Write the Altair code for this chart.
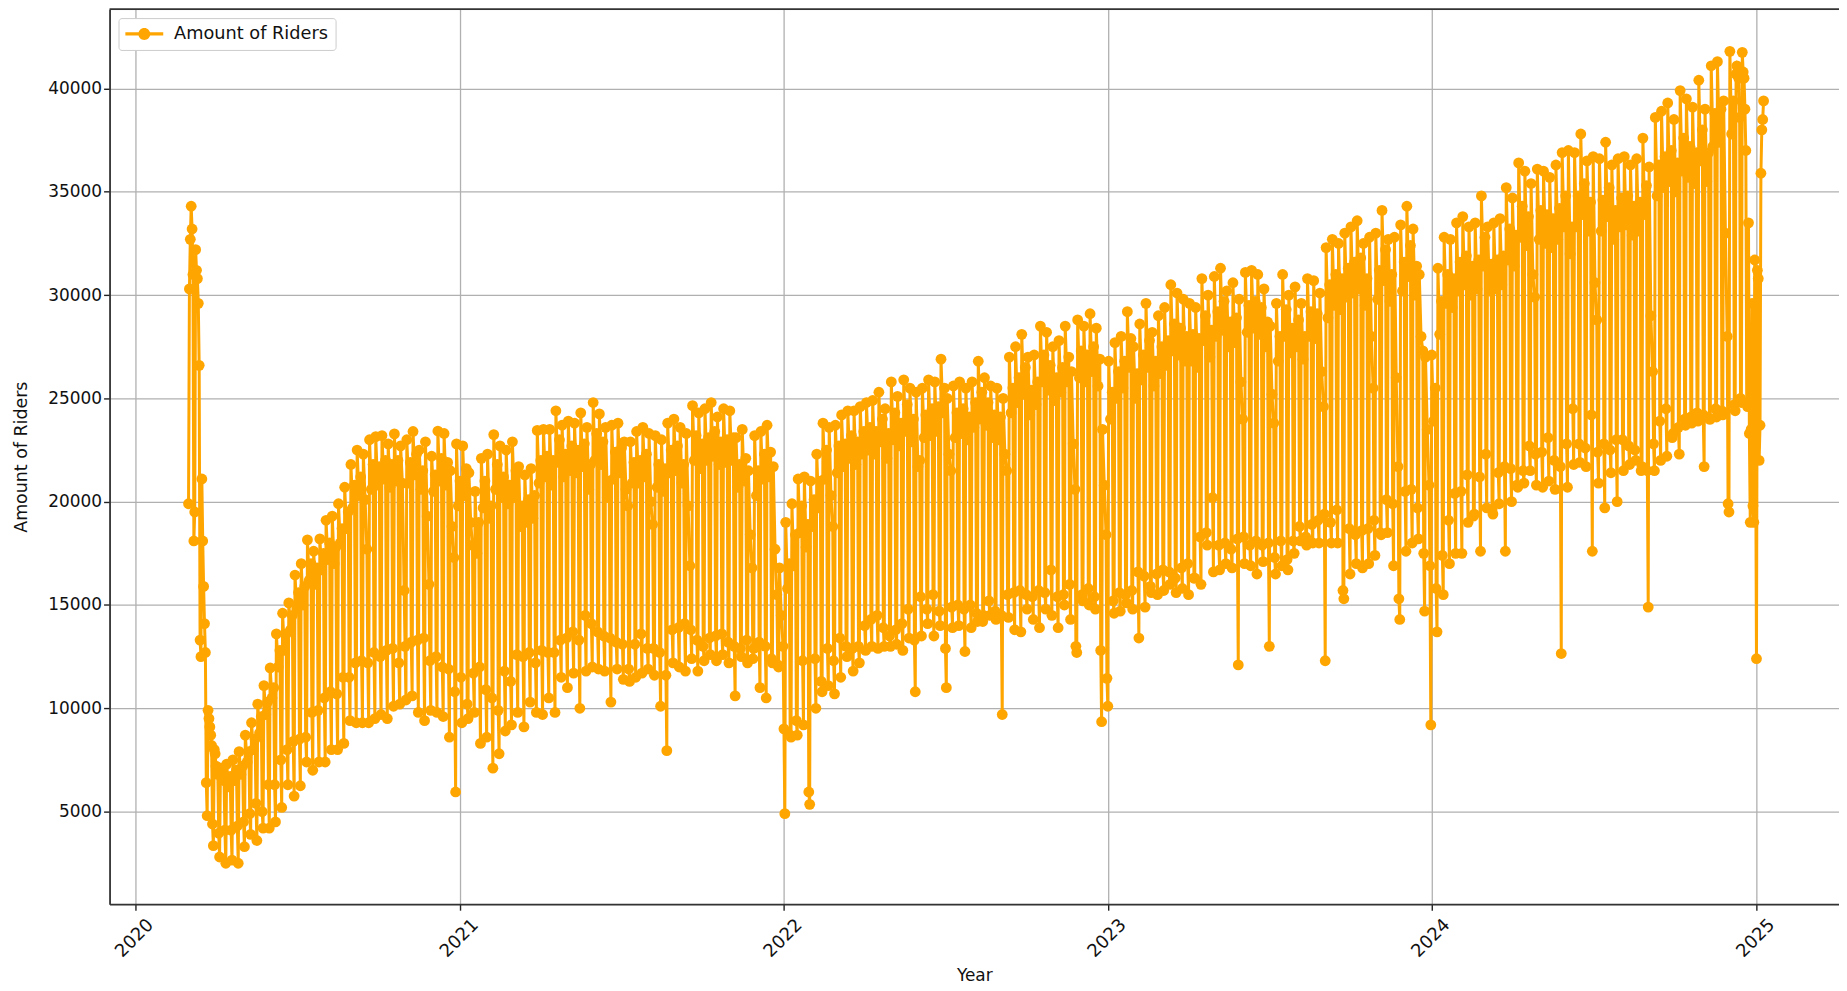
import altair as alt
import pandas as pd

# Daily readings, 1 Mar 2020 to 12 Apr 2020
spring_2020 = [19900, 30300, 32700, 34300, 33200, 31000, 18100,
               19500, 32200, 31200, 30800, 29600, 26600, 13300,
               12500, 21100, 18100, 15900, 14100, 12700, 6400,
               4800, 9900, 9500, 9100, 8700, 8200, 4400,
               3350, 8000, 7800, 7200, 7000, 6800, 3950,
               2800, 7100, 7000, 6900, 6700, 6500, 4100, 2500]

# Weekly readings, one value per week from the week of 13 Apr 2020 to the week of 2 Dec 2024
weekday_peak = [
    7300, 7500, 7900, 8700, 9300, 10200, 11100, 11950, 13600, 14600, 15100, 16450, 17000,
    18150, 17600, 18200, 19100, 19300, 19900, 20700, 21800, 22500, 22300, 23000, 23150, 23200,
    22800, 23280, 22700, 23000, 23400, 22500, 22900, 22200, 23420, 23300, 21500, 22800, 22700,
    21400, 20500, 22100, 22300, 23250, 22700, 22500, 22900, 21700, 21300, 21600, 23450, 23500,
    23500, 24400, 23700, 23900, 23800, 24300, 23600, 24800, 24250, 23600, 23700, 23800, 22900,
    22900, 23400, 23600, 23300, 23200, 23000, 23800, 24000, 23600, 23300, 24650, 24300, 24500,
    24800, 24100, 24500, 24400, 23100, 23500, 21500, 23200, 23400, 23700, 21700, 16800, 19000,
    19900, 21100, 21200, 21000, 22300, 23800, 23600, 23700, 24200, 24400, 24400, 24600, 24800,
    24900, 25300, 24500, 25800, 25100, 25900, 25500, 25300, 25500, 25900, 25800, 26900, 25000,
    25600, 25800, 25500, 25800, 26800, 26000, 25600, 25500, 25000, 27000, 27500, 28100, 27000,
    27100, 28500, 28200, 27500, 27800, 28500, 26300, 28800, 28500, 29100, 28400, 23500, 26800,
    27700, 28000, 29200, 27500, 28600, 29600, 28200, 29000, 29400, 30500, 30100, 29800, 29600,
    29400, 30800, 30000, 30900, 31300, 30200, 30600, 29800, 31100, 31200, 31000, 30300, 28500,
    29600, 31000, 30000, 30400, 29600, 30800, 30700, 30100, 32300, 32700, 32500, 33000, 33300,
    33600, 32500, 32800, 33000, 34100, 32700, 32800, 33400, 34300, 33200, 31000, 27000, 27100,
    31300, 32800, 32700, 33500, 33800, 33300, 33500, 34800, 33300, 33500, 33700, 35200, 34700,
    36400, 36000, 35400, 36100, 36000, 35700, 36300, 36900, 37000, 36900, 37800, 36500, 36700,
    36600, 37400, 36300, 36600, 36700, 36300, 36600, 37600, 36200, 38600, 38900, 39300, 38500,
    39900, 39500, 39100, 40400, 39000, 41100, 41300, 39400, 41800]

weekday_low = [
    6200, 6500, 6800, 7400, 8000, 8800, 9700, 10500, 12000, 12800, 13800, 14800, 15000,
    16200, 16000, 16700, 17200, 17000, 18000, 18700, 19700, 20300, 20100, 20600, 20800, 21100,
    20700, 21000, 20900, 20900, 21300, 20600, 19300, 20500, 21000, 20800, 18800, 19800, 20300,
    19000, 17500, 19700, 19200, 20600, 20200, 19900, 20200, 18800, 19000, 19200, 20900, 21200,
    20800, 21900, 21200, 21500, 21400, 21700, 20600, 22000, 21800, 20200, 21100, 21400, 20600,
    20900, 20900, 21200, 20000, 20700, 20500, 21400, 21500, 20900, 19800, 22000, 21600, 22000,
    22200, 21800, 21900, 22000, 20700, 21000, 18400, 20300, 21100, 21200, 17700, 14500, 15800,
    16900, 18500, 17800, 18800, 19700, 21100, 20300, 21400, 21700, 22100, 21800, 22300, 22500,
    22300, 22900, 22100, 23000, 22700, 23400, 22900, 21700, 23100, 23200, 23400, 24300, 22300,
    23100, 23300, 23000, 23600, 24000, 23700, 23100, 23000, 22300, 24300, 24800, 25200, 24200,
    24700, 25800, 25400, 24900, 25300, 25800, 22800, 26000, 25800, 26300, 25600, 20800, 24000,
    25000, 25500, 26500, 25000, 25900, 26500, 25600, 26200, 26600, 27300, 27100, 26800, 26800,
    26500, 27800, 27000, 28000, 28300, 27500, 27700, 25800, 28200, 28400, 28100, 27500, 25200,
    26800, 28000, 27200, 27500, 26900, 28000, 27900, 26300, 28900, 29500, 29300, 29900, 30100,
    30300, 29500, 28000, 29800, 30700, 29700, 26000, 30200, 30900, 30000, 28000, 23500, 23900,
    28100, 29600, 29400, 30200, 30500, 30000, 30300, 31400, 30200, 30300, 30500, 31700, 31400,
    32800, 32400, 31000, 32700, 32500, 32300, 32700, 33300, 32000, 33300, 33900, 33100, 30600,
    33100, 33800, 32700, 33300, 33400, 32900, 33100, 33900, 29000, 34800, 35200, 35500, 35000,
    36000, 35700, 35400, 36500, 35500, 37200, 37400, 33000, 37800]

weekday_mid = [
    6700, 7000, 7200, 7900, 8500, 9600, 10300, 11000, 12800, 13600, 14500, 15600, 15900,
    17000, 16800, 17500, 18000, 17800, 18700, 19500, 20800, 21200, 17700, 21800, 21700, 22000,
    21800, 22000, 15700, 21900, 22300, 21500, 16000, 21300, 22100, 21900, 17300, 21000, 21600,
    17900, 19000, 21000, 19800, 21800, 21200, 20800, 21500, 19800, 20100, 20300, 22000, 22200,
    22000, 23000, 22300, 22700, 22500, 22800, 21800, 23300, 22900, 21000, 22400, 22600, 19800,
    21900, 22000, 22300, 18900, 21800, 21600, 22500, 22700, 21800, 16900, 23200, 22800, 23100,
    23400, 22900, 23000, 23100, 21800, 22100, 16800, 21500, 22300, 22400, 15500, 13000, 17000,
    18400, 19800, 18900, 20100, 21000, 22500, 18800, 22700, 22800, 23200, 22900, 23400, 23600,
    23400, 24000, 23300, 24300, 23800, 24700, 24000, 22000, 24200, 24500, 24600, 25500, 21500,
    24300, 24500, 24100, 24800, 25300, 24800, 24200, 24100, 21500, 25500, 26000, 26500, 25400,
    25800, 27100, 26600, 26000, 26500, 27000, 20600, 27300, 27100, 27500, 26900, 18400, 25300,
    26300, 26800, 27900, 26200, 27100, 27800, 26800, 27500, 27800, 28600, 28400, 28000, 28100,
    27900, 29000, 28300, 29200, 29700, 28700, 28900, 24000, 29500, 29700, 29400, 28700, 23800,
    28000, 29300, 28400, 28800, 28000, 29200, 29100, 24600, 30500, 31000, 30800, 31300, 31600,
    31800, 30800, 25500, 31200, 32200, 31000, 21700, 31600, 32400, 31400, 27300, 20800, 25500,
    29700, 31000, 30800, 31600, 31900, 31400, 31700, 32800, 31500, 31700, 31900, 33200, 32900,
    34300, 33800, 29900, 34100, 33900, 33700, 34200, 34800, 33300, 34800, 35400, 34500, 28800,
    34600, 35200, 34100, 34700, 34800, 34300, 34500, 35300, 26300, 36300, 36700, 37000, 36400,
    37600, 37200, 36900, 38000, 36900, 38800, 39000, 28000, 39400]

saturday = [
    4100, 4300, 4500, 4900, 5400, 5000, 6300, 6300, 7500, 8000, 8400, 8500, 8600,
    9800, 9900, 10500, 10800, 10700, 11500, 11500, 12200, 12300, 12200, 12700, 12500, 12800,
    12900, 12200, 13000, 13200, 13300, 13400, 12300, 12500, 12000, 11900, 10800, 11500, 10200,
    11700, 12000, 10900, 10500, 9900, 11800, 11300, 12600, 12500, 12700, 12200, 12800, 12700,
    12700, 13300, 13400, 13700, 13300, 14500, 14100, 13700, 13500, 13400, 13200, 13100, 11900,
    13100, 13600, 12900, 12900, 12700, 11600, 13800, 13900, 14100, 13800, 13300, 13000, 13400,
    13500, 13600, 13200, 13000, 12900, 13300, 12400, 13200, 13000, 12400, 12100, 9000, 8700,
    9400, 12300, 5950, 12400, 11300, 12900, 12300, 13400, 13000, 12900, 13000, 14000, 14300,
    14500, 13900, 13500, 13800, 14100, 14800, 13300, 15400, 14800, 15500, 14700, 12900, 14900,
    15000, 14800, 15000, 14600, 14200, 15200, 14700, 14500, 15500, 15600, 15700, 15500, 15400,
    15700, 15600, 16700, 15400, 15500, 16000, 13000, 15500, 15800, 15400, 12800, 11450, 15200,
    15600, 15500, 15700, 16600, 16400, 15900, 16500, 16700, 16600, 16300, 16800, 17000, 16300,
    18300, 18500, 20200, 17900, 18000, 17700, 18200, 18300, 17900, 18100, 17900, 18000, 17300,
    18100, 17200, 18100, 18800, 18300, 18900, 19100, 19400, 19000, 19600, 15700, 18700, 18400,
    18600, 18700, 19100, 18500, 20100, 19900, 15300, 20500, 20600, 19700, 17500, 16900, 15800,
    17400, 19100, 20400, 20500, 21300, 19300, 21200, 22300, 19600, 21400, 21700, 21600, 20800,
    21500, 22700, 22300, 22400, 23100, 22000, 21700, 22800, 24500, 22800, 22600, 24200, 22400,
    22800, 22500, 23000, 23000, 22700, 22500, 21500, 21500, 22800, 23900, 24500, 23100, 23600,
    24000, 24100, 24300, 24200, 24000, 24500, 24400, 19900, 24700]

sunday = [
    2650, 2500, 3300, 3900, 3600, 4200, 4200, 4500, 5200, 6300, 5750, 6250, 7400,
    7000, 7400, 7400, 8000, 8000, 8300, 9400, 9300, 9300, 9300, 9500, 9700, 9500,
    10100, 10200, 10400, 10600, 9800, 9400, 9900, 9800, 9600, 8600, 5950, 9300, 9500,
    9800, 8300, 8600, 7100, 7800, 8900, 9200, 9800, 9100, 10300, 9800, 9700, 10500,
    9800, 11500, 11000, 11700, 10000, 11800, 12000, 11900, 11800, 10300, 11900, 11400, 11300,
    11500, 11700, 11900, 11600, 10100, 7950, 12200, 12000, 11800, 12400, 11800, 12300, 12600,
    12300, 12600, 12200, 10600, 12500, 12200, 12900, 11000, 10500, 12200, 12000, 4900, 8600,
    8700, 9200, 5350, 10000, 10800, 11100, 10700, 11500, 12500, 11800, 12200, 12800, 13000,
    12900, 13000, 13000, 13100, 12800, 13400, 10800, 13500, 14100, 13500, 14000, 11000, 13900,
    14000, 12750, 13900, 14200, 14500, 14500, 14300, 9700, 14400, 13800, 13700, 14800, 14300,
    13900, 14800, 14500, 13900, 15000, 14300, 12700, 15200, 15000, 14800, 9350, 10100, 14600,
    14700, 15100, 14800, 13400, 14900, 15600, 15500, 15700, 16000, 15600, 15800, 15500, 16300,
    16000, 17900, 16600, 16700, 17000, 16800, 12100, 17000, 16900, 16500, 17100, 13000, 16500,
    16900, 16700, 17500, 18100, 17900, 18000, 18000, 12300, 18000, 18000, 15300, 16500, 17000,
    16800, 17000, 17400, 18400, 18500, 16900, 14300, 17600, 18000, 18200, 14700, 9200, 13700,
    15500, 17000, 17500, 17500, 19000, 19400, 17600, 19700, 19400, 19900, 17600, 20000, 20700,
    20900, 21500, 20800, 20700, 21000, 20600, 12650, 20700, 21800, 21900, 21700, 17600, 20900,
    19700, 21400, 20000, 21500, 21800, 22000, 21700, 14900, 21500, 22000, 22200, 23300, 22300,
    23700, 23800, 23900, 21700, 24000, 24100, 24200, 19500, 24400]

# Daily readings, 9 Dec 2024 to 9 Jan 2025
winter_tail = [40700, 41100, 41000, 40500, 38600, 25000, 24800,
               41750, 40800, 40500, 39000, 37000, 24800, 24600,
               33500, 23300, 19000, 23500, 29600, 19800, 19000,
               31700, 23400, 12400, 31200, 30800, 22000, 23700,
               35900, 38000, 38500, 39400]

y_ticks = [5000, 10000, 15000, 20000, 25000, 30000, 35000, 40000]
series_name = "Amount of Riders"
line_color = "#FFA500"

dates, values = [], []
d0 = pd.Timestamp("2020-03-01")
for i, v in enumerate(spring_2020):
    dates.append(d0 + pd.Timedelta(days=i))
    values.append(v)
w0 = pd.Timestamp("2020-04-13")
for i, week in enumerate(zip(weekday_peak, weekday_low, weekday_mid, saturday, sunday)):
    m = w0 + pd.Timedelta(days=7 * i)
    for off, v in zip([0, 2, 4, 5, 6], week):
        dates.append(m + pd.Timedelta(days=off))
        values.append(v)
t0 = pd.Timestamp("2024-12-09")
for i, v in enumerate(winter_tail):
    dates.append(t0 + pd.Timedelta(days=i))
    values.append(v)

df = pd.DataFrame({"date": [d.strftime("%Y-%m-%d") for d in dates],
                   "riders": values, "series": series_name})

W, H = 1737, 899
x_scale = alt.Scale(domain=["2019-12-03", "2025-04-04"], nice=False)
y_scale = alt.Scale(domain=[516, 43843], nice=False, zero=False)

x_axis = alt.Axis(title="Year", format="%Y", tickCount={"interval": "year", "step": 1},
                  labelAngle=-45, labelAlign="center", labelBaseline="middle",
                  labelPadding=28, labelOffset=-1, labelFontSize=18, titleFontSize=17,
                  titleFontWeight="normal", titlePadding=7, tickSize=6, tickWidth=1.4,
                  tickColor="#222222", domainColor="#333333", domainWidth=1.8,
                  gridColor="#b0b0b0", gridWidth=1.3, labelColor="#111111",
                  titleColor="#111111", labelFont="DejaVu Sans", titleFont="DejaVu Sans")
y_axis = alt.Axis(title="Amount of Riders", values=y_ticks, format="d",
                  labelFontSize=17, titleFontSize=17.5, titleFontWeight="normal",
                  titlePadding=17, tickSize=6, tickWidth=1.4, tickColor="#222222",
                  domainColor="#333333", domainWidth=1.8, gridColor="#b0b0b0", gridWidth=1.3,
                  labelColor="#111111", titleColor="#111111",
                  labelFont="DejaVu Sans", titleFont="DejaVu Sans")

legend_symbol = ("M-3.17,-0.28H3.17V0.28H-3.17Z "
                 "M1,0A1,1,0,1,1,-1,0A1,1,0,1,1,1,0Z")
legend = alt.Legend(title=None, orient="none", legendX=9, legendY=9,
                    fillColor="white", strokeColor="#cccccc", cornerRadius=3, padding=7,
                    symbolType=legend_symbol, symbolSize=144, symbolOffset=10,
                    symbolStrokeWidth=0, labelOffset=21, labelFontSize=17.8,
                    labelFont="DejaVu Sans", labelColor="#111111")

base = alt.Chart(df)
line = base.mark_line(color=line_color, strokeWidth=3).encode(
    x=alt.X("date:T", scale=x_scale, axis=x_axis),
    y=alt.Y("riders:Q", scale=y_scale, axis=y_axis),
)
points = base.mark_point(filled=True, size=118, opacity=1).encode(
    x=alt.X("date:T", scale=x_scale),
    y=alt.Y("riders:Q", scale=y_scale),
    color=alt.Color("series:N", scale=alt.Scale(domain=[series_name], range=[line_color]),
                    legend=legend),
)
top_spine = alt.Chart(pd.DataFrame({"a": [0]})).mark_rule(color="#333333", strokeWidth=1.8).encode(
    x=alt.value(0), x2=alt.value(W), y=alt.value(0)
)

chart = (line + points + top_spine).properties(
    width=W, height=H,
    autosize=alt.AutoSizeParams(type="none", contains="content"),
    padding={"left": 102, "top": -1, "right": 0, "bottom": 78},
).configure_view(stroke=None).configure(background="white")

chart.save("out.html", embed_options={"renderer": "svg", "actions": False})
